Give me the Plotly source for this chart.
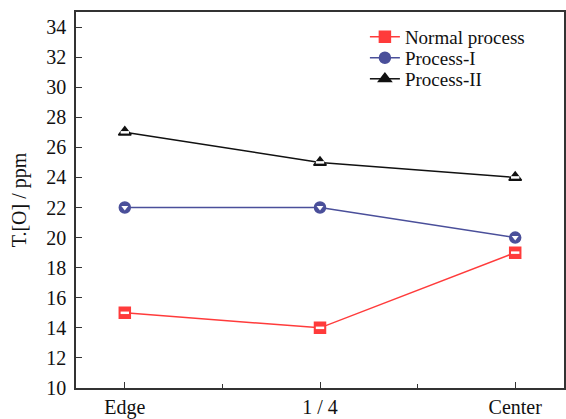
import plotly.graph_objects as go

# Sample positions along the slab and their labels
positions = [1, 2, 3]
position_labels = ["Edge", "1 / 4", "Center"]

# Total oxygen content (ppm) for each process
normal_process = [15, 14, 19]
process_1 = [22, 22, 20]
process_2 = [27, 25, 24]

series = [
    ("Normal process", normal_process, "#FF3B3B", "square", "line-ew", "legend", 0.934),
    ("Process-I", process_1, "#4A4F9A", "circle", "triangle-down", "legend2", 0.878),
    ("Process-II", process_2, "#111111", "triangle-up", "line-ew", "legend3", 0.822),
]

serif = "Liberation Serif"
axis_font = dict(family=serif, size=20, color="#111111")

fig = go.Figure()
for name, vals, color, sym, inner, leg, _ in series:
    fig.add_trace(go.Scatter(
        x=positions, y=vals, name=name, mode="lines+markers", legend=leg,
        line=dict(color=color, width=1.5),
        marker=dict(symbol=sym, size=11, color=color,
                    line=dict(color=color, width=1.5)),
    ))
for name, vals, color, sym, inner, leg, _ in series:
    # white inset giving the half-filled marker look
    fig.add_trace(go.Scatter(
        x=positions, y=vals, mode="markers", showlegend=False,
        hoverinfo="skip",
        marker=dict(symbol=inner, size=6, color="white",
                    line=dict(color="white", width=2.5 if inner == "line-ew" else 0)),
    ))

legends = {}
for name, vals, color, sym, inner, leg, ypos in series:
    legends[leg] = dict(
        x=0.592, y=ypos, xanchor="left", yanchor="middle",
        bgcolor="rgba(0,0,0,0)", borderwidth=0,
        font=dict(family=serif, size=19, color="#111111"),
        itemwidth=30,
    )

fig.update_layout(
    width=566, height=419,
    margin=dict(l=76, r=0, t=12, b=30),
    plot_bgcolor="white", paper_bgcolor="white",
    font=axis_font,
    **legends,
)
fig.update_xaxes(
    range=[0.75, 3.25], tickvals=positions, ticktext=position_labels,
    ticks="inside", ticklen=6, tickwidth=1.2, tickcolor="#333333",
    minor=dict(tickvals=[1.5, 2.5], ticks="inside", ticklen=4, tickcolor="#333333"),
    showline=True, linecolor="#333333", linewidth=1.5, mirror=True,
    showgrid=False, zeroline=False, tickfont=axis_font,
)
fig.update_yaxes(
    range=[10, 35], tickvals=list(range(10, 35, 2)),
    ticks="inside", ticklen=6, tickwidth=1.2, tickcolor="#333333",
    showline=True, linecolor="#333333", linewidth=1.5, mirror=True,
    showgrid=False, zeroline=False, tickfont=axis_font,
    ticklabelstandoff=4,
    title=dict(text="T.[O] / ppm", font=dict(family=serif, size=20, color="#111111"), standoff=14),
)

fig.write_html("out.html")
